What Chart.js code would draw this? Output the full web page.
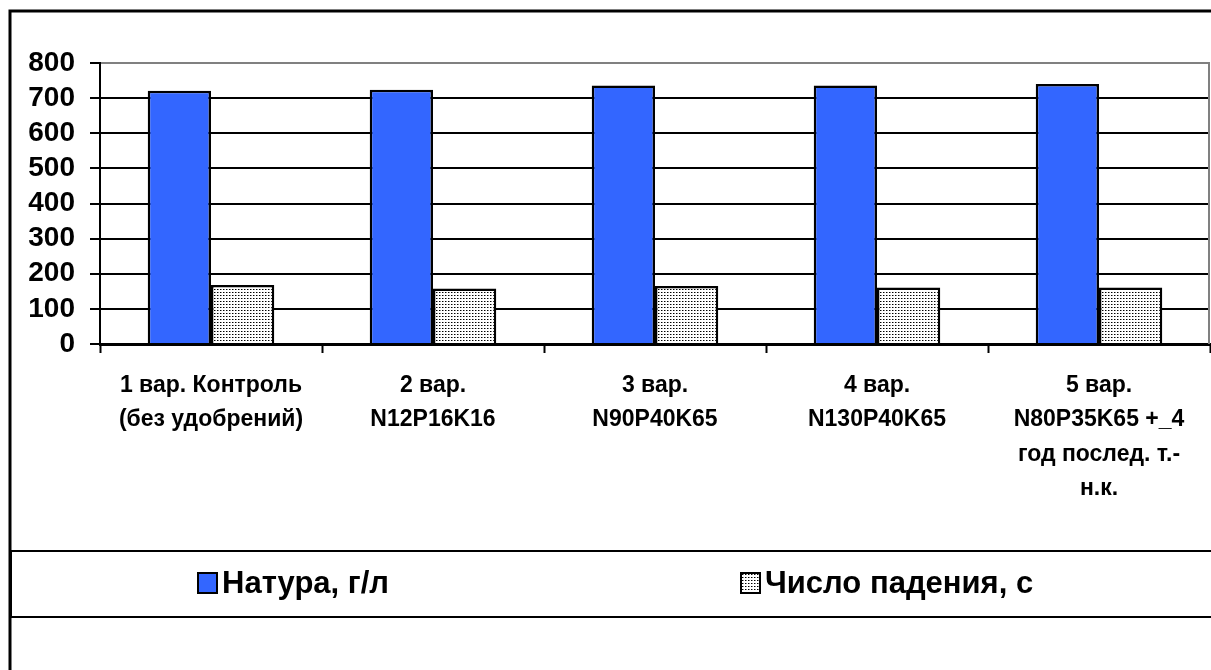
<!DOCTYPE html>
<html lang="ru">
<head>
<meta charset="utf-8">
<title>Натура и число падения</title>
<script src="https://cdn.jsdelivr.net/npm/chart.js@4/dist/chart.umd.min.js"></script>
<style>
  html, body { margin: 0; padding: 0; background: #fff; }
  #wrap { position: relative; width: 1211px; height: 670px; }
</style>
</head>
<body>
<div id="wrap"><canvas id="barChart"></canvas></div>
<script>
const categories = [
  ['1 вар. Контроль', '(без удобрений)'],
  ['2 вар.', 'N12P16K16'],
  ['3 вар.', 'N90P40K65'],
  ['4 вар.', 'N130P40K65'],
  ['5 вар.', 'N80P35K65 +_4', 'год послед. т.-', 'н.к.']
];
const seriesNames = ['Натура, г/л', 'Число падения, с'];
const natura = [721, 724, 736, 736, 740];
const fallNumber = [168, 158, 165, 161, 161];
const yMin = 0;
const yMax = 800;
const yStep = 100;

const FONT = 'Arial, "Liberation Sans", sans-serif';

const ctx = document.getElementById('barChart').getContext('2d');

// мелкая точечная штриховка для второго ряда
function dotPattern() {
  const c = document.createElement('canvas');
  c.width = 3;
  c.height = 3;
  const g = c.getContext('2d');
  g.fillStyle = '#fff';
  g.fillRect(0, 0, 3, 3);
  g.fillStyle = '#000';
  g.fillRect(1, 1, 1, 1);
  g.fillStyle = '#888';
  g.fillRect(2, 1, 1, 1);
  return ctx.createPattern(c, 'repeat');
}
const dots = dotPattern();

// рамка диаграммы, правая граница области построения и легенда
const framePlugin = {
  id: 'frame',
  afterDraw(chart) {
    const c = chart.ctx;
    const area = chart.chartArea;
    c.save();

    c.strokeStyle = '#808080';
    c.lineWidth = 2;
    c.beginPath();
    c.moveTo(area.right - 1, area.top);
    c.lineTo(area.right - 1, area.bottom);
    c.stroke();

    c.strokeStyle = '#000';
    c.lineWidth = 3;
    c.beginPath();
    c.moveTo(10, 670);
    c.lineTo(10, 11);
    c.lineTo(1211, 11);
    c.stroke();

    // легенда
    c.strokeStyle = '#000';
    c.lineWidth = 2;
    c.strokeRect(11, 551, 1202, 66);

    const items = [
      { x: 198, ds: chart.data.datasets[0] },
      { x: 741, ds: chart.data.datasets[1] }
    ];
    c.font = 'bold 31px ' + FONT;
    c.textBaseline = 'middle';
    c.textAlign = 'left';
    items.forEach(it => {
      c.fillStyle = it.ds.backgroundColor;
      c.fillRect(it.x, 573, 19, 20);
      c.strokeStyle = '#000';
      c.lineWidth = 2;
      c.strokeRect(it.x, 573, 19, 20);
      c.fillStyle = '#000';
      c.fillText(it.ds.label, it.x + 24, 584);
    });
    c.restore();
  }
};

const chart = new Chart(ctx, {
  type: 'bar',
  data: {
    labels: categories,
    datasets: [{
      label: seriesNames[0],
      data: natura,
      backgroundColor: '#3366FF',
      borderColor: '#000',
      borderWidth: 2.5,
      categoryPercentage: 0.57,
      barPercentage: 1.0
    }, {
      label: seriesNames[1],
      data: fallNumber,
      backgroundColor: dots,
      borderColor: '#000',
      borderWidth: 2.5,
      categoryPercentage: 0.57,
      barPercentage: 1.0
    }]
  },
  options: {
    responsive: true,
    maintainAspectRatio: false,
    animation: false,
    layout: { padding: { top: 63, left: 0, right: 1, bottom: 146 } },
    plugins: {
      legend: { display: false },
      tooltip: { enabled: false }
    },
    scales: {
      x: {
        grid: {
          offset: true,
          drawOnChartArea: false,
          drawTicks: true,
          tickLength: 9,
          tickWidth: 2,
          tickColor: '#000'
        },
        border: { color: '#000', width: 3 },
        ticks: {
          color: '#000',
          maxRotation: 0,
          autoSkip: false,
          padding: 15,
          font: { family: FONT, size: 23, weight: 'bold', lineHeight: 1.5 }
        },
        afterFit: s => { s.height = 180; }
      },
      y: {
        min: yMin,
        max: yMax,
        grid: {
          color: c => (c.tick && c.tick.value === yMax) ? '#808080' : '#000',
          lineWidth: 2,
          tickLength: 10,
          tickColor: '#000',
          tickWidth: 2
        },
        border: { color: '#000', width: 2 },
        ticks: {
          stepSize: yStep,
          autoSkip: false,
          color: '#000',
          padding: 15,
          font: { family: FONT, size: 28, weight: 'bold' }
        },
        afterFit: s => { s.width = 100; }
      }
    }
  },
  plugins: [framePlugin]
});
</script>
</body>
</html>
